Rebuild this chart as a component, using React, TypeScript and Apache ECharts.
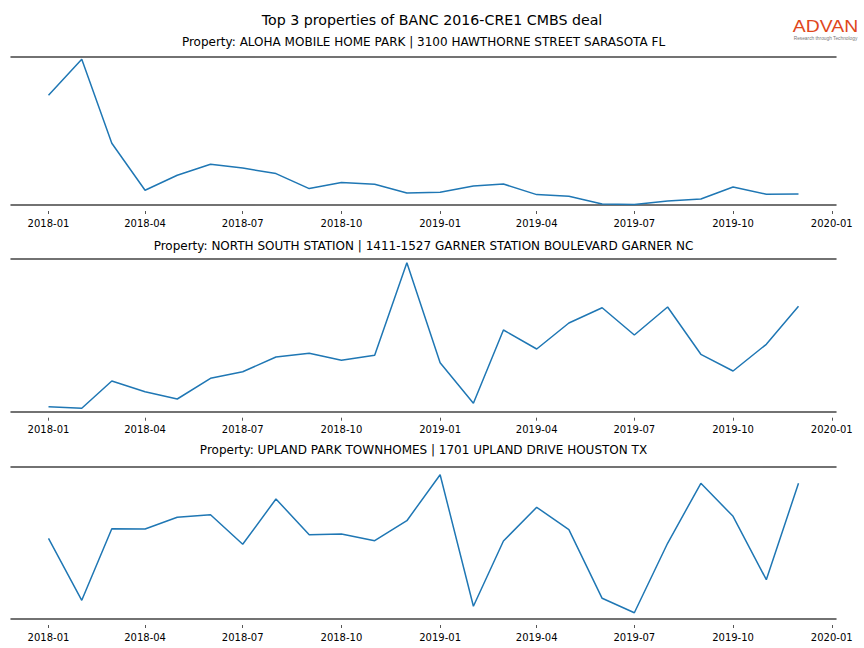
import React, { useEffect, useRef } from 'react';
import * as echarts from 'echarts';

const months = [
  '2018-01', '2018-02', '2018-03', '2018-04', '2018-05', '2018-06',
  '2018-07', '2018-08', '2018-09', '2018-10', '2018-11', '2018-12',
  '2019-01', '2019-02', '2019-03', '2019-04', '2019-05', '2019-06',
  '2019-07', '2019-08', '2019-09', '2019-10', '2019-11', '2019-12',
];

const tickLabels = [
  '2018-01', '2018-04', '2018-07', '2018-10',
  '2019-01', '2019-04', '2019-07', '2019-10', '2020-01',
];

const mainTitle = 'Top 3 properties of BANC 2016-CRE1 CMBS deal';

const subTitles = [
  'Property: ALOHA MOBILE HOME PARK | 3100 HAWTHORNE STREET SARASOTA FL',
  'Property: NORTH SOUTH STATION | 1411-1527 GARNER STATION BOULEVARD GARNER NC',
  'Property: UPLAND PARK TOWNHOMES | 1701 UPLAND DRIVE HOUSTON TX',
];

const aloha = [
  109.7, 145.7, 61.7, 14.7, 29.7, 40.7, 37.0, 31.4, 16.4, 22.4, 20.7, 12.0,
  12.7, 19.0, 21.0, 10.4, 8.7, 1.0, 0.4, 4.0, 6.0, 18.0, 10.7, 11.0,
];

const northSouth = [
  5.0, 3.4, 30.7, 20.0, 12.7, 33.4, 40.0, 54.7, 58.4, 51.4, 56.4, 149.0,
  49.0, 8.4, 81.7, 62.7, 88.7, 104.0, 76.7, 104.7, 57.4, 40.7, 67.4, 105.4,
];

const upland = [
  80.7, 18.7, 90.3, 90.0, 101.7, 104.3, 74.7, 120.0, 84.3, 85.0, 78.3, 98.3,
  144.3, 12.7, 78.0, 111.7, 89.3, 20.7, 6.3, 75.7, 135.7, 102.7, 39.3, 135.7,
];

const seriesList = [aloha, northSouth, upland];
const yMin = [0, 0, 0];
const yMax = [148, 152.7, 152.3];

const FONT = 'DejaVu Sans';

function ts(s: string): number {
  const [y, m] = s.split('-').map(Number);
  return Date.UTC(y, m - 1, 1);
}

function fmt(v: number): string {
  const d = new Date(v);
  const mm = d.getUTCMonth() + 1;
  return d.getUTCFullYear() + '-' + (mm < 10 ? '0' + mm : '' + mm);
}

export default function App() {
  const ref = useRef<HTMLDivElement>(null);

  useEffect(() => {
    if (!ref.current) return;
    const chart = echarts.init(ref.current, undefined, { renderer: 'svg' });

    const t0 = ts(months[0]);
    const t1 = ts(months[months.length - 1]);
    const span = t1 - t0;
    const xMin = t0 - 0.05 * span;
    const xMax = t1 + 0.05 * span;
    const tickVals = tickLabels.map(ts);

    const gridTops = [57, 259, 466.7];
    const gridHeights = [148, 152.7, 152.3];
    const subY = [42, 246, 450];

    const grids: any[] = [];
    const xAxes: any[] = [];
    const yAxes: any[] = [];
    const series: any[] = [];
    const graphics: any[] = [];

    seriesList.forEach((vals, i) => {
      grids.push({ left: 11, right: 28, top: gridTops[i], height: gridHeights[i], containLabel: false });
      const spine = { show: true, lineStyle: { color: '#444444', width: 1.5 } };
      xAxes.push({
        type: 'value', gridIndex: i, position: 'bottom', min: xMin, max: xMax,
        axisLine: spine, axisTick: { show: false }, axisLabel: { show: false }, splitLine: { show: false },
      });
      xAxes.push({
        type: 'value', gridIndex: i, position: 'top', min: xMin, max: xMax,
        axisLine: spine, axisTick: { show: false }, axisLabel: { show: false }, splitLine: { show: false },
      });
      xAxes.push({
        type: 'value', gridIndex: i, position: 'bottom', offset: 6, min: xMin, max: xMax,
        axisLine: { show: false },
        axisTick: { show: true, customValues: tickVals, length: 3, lineStyle: { color: '#555555', width: 1 } },
        axisLabel: {
          show: true, customValues: tickVals, formatter: (v: number) => fmt(v),
          fontFamily: FONT, fontSize: 10, color: '#000000', margin: 7,
        },
        splitLine: { show: false },
      });
      yAxes.push({ type: 'value', gridIndex: i, min: yMin[i], max: yMax[i], show: false });
      series.push({
        type: 'line', xAxisIndex: i * 3, yAxisIndex: i,
        data: months.map((m, j) => [ts(m), vals[j]]),
        symbol: 'none', showSymbol: false,
        lineStyle: { color: '#1f77b4', width: 1.5 },
        itemStyle: { color: '#1f77b4' },
      });
      graphics.push({
        type: 'text', x: 423.5, y: subY[i],
        style: { text: subTitles[i], fontFamily: FONT, fontSize: 12, fill: '#000', textAlign: 'center', textVerticalAlign: 'middle' },
      });
    });

    graphics.push({
      type: 'text', x: 432, y: 20,
      style: { text: mainTitle, fontFamily: FONT, fontSize: 14.2, fill: '#000', textAlign: 'center', textVerticalAlign: 'middle' },
    });
    graphics.push({
      type: 'text', x: 825.5, y: 26, scaleX: 1.14, scaleY: 1,
      style: { text: 'ADVAN', fontFamily: 'Liberation Sans', fontSize: 17, fill: '#e0471c', textAlign: 'center', textVerticalAlign: 'middle' },
    });
    graphics.push({
      type: 'text', x: 825.5, y: 38.2,
      style: { text: 'Research through Technology', fontFamily: 'Liberation Sans', fontSize: 4.8, fill: '#777777', textAlign: 'center', textVerticalAlign: 'middle' },
    });

    chart.setOption({
      animation: false,
      backgroundColor: '#ffffff',
      grid: grids,
      xAxis: xAxes,
      yAxis: yAxes,
      series,
      graphic: graphics,
    });

    return () => chart.dispose();
  }, []);

  return <div ref={ref} style={{ position: 'fixed', left: 0, top: 0, width: 864, height: 648 }} />;
}
